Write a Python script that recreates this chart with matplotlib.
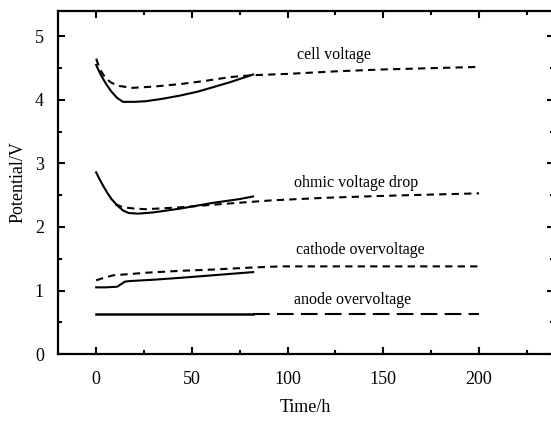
import matplotlib
matplotlib.use('Agg')
import matplotlib.pyplot as plt
from matplotlib.ticker import MultipleLocator

plt.rcParams['font.family'] = 'Liberation Serif'

# values (time in h, potential in V)
cell_t = [0, 2, 5, 8, 11, 14, 20, 26, 35, 44, 53, 61, 70, 77, 82]
cell_v = [4.55, 4.42, 4.26, 4.13, 4.03, 3.97, 3.97, 3.98, 4.02, 4.07, 4.13, 4.20, 4.28, 4.35, 4.40]
cell_dt = [0, 2, 5, 8, 12, 19, 30, 44, 57, 70, 82, 100, 125, 150, 175, 200]
cell_dv = [4.65, 4.48, 4.34, 4.27, 4.22, 4.19, 4.21, 4.25, 4.30, 4.36, 4.39, 4.41, 4.45, 4.48, 4.50, 4.52]

ohm_t = [0, 2, 4, 6, 8, 11, 14, 17, 22, 30, 44, 61, 75, 82]
ohm_v = [2.86, 2.74, 2.63, 2.53, 2.44, 2.34, 2.26, 2.22, 2.21, 2.23, 2.29, 2.38, 2.44, 2.48]
ohm_dt = [10, 14, 20, 26, 44, 65, 92, 120, 150, 175, 200]
ohm_dv = [2.36, 2.31, 2.29, 2.28, 2.31, 2.36, 2.42, 2.46, 2.49, 2.51, 2.53]

cath_t = [0, 5, 11, 13, 15, 18, 30, 44, 61, 82]
cath_v = [1.05, 1.05, 1.06, 1.10, 1.14, 1.15, 1.17, 1.20, 1.24, 1.29]
cath_dt = [0, 4, 9, 18, 26, 44, 61, 80, 96, 120, 150, 200]
cath_dv = [1.16, 1.20, 1.24, 1.26, 1.28, 1.31, 1.33, 1.36, 1.38, 1.38, 1.38, 1.38]

anode_t = [0, 82]
anode_v = [0.63, 0.63]
anode_dt = [82, 200]
anode_dv = [0.63, 0.63]

fig = plt.figure(figsize=(5.51, 4.23), dpi=100)
# right spine sits just past the image edge, as in the scanned original
ax = fig.add_axes([0.105, 0.163, 0.9, 0.811])

short = (0, (3.5, 2.5))
lw = 1.5
ax.plot(cell_t, cell_v, color='black', lw=lw)
ax.plot(cell_dt, cell_dv, color='black', lw=lw, linestyle=short)
ax.plot(ohm_t, ohm_v, color='black', lw=lw)
ax.plot(ohm_dt, ohm_dv, color='black', lw=lw, linestyle=short)
ax.plot(cath_t, cath_v, color='black', lw=lw)
ax.plot(cath_dt, cath_dv, color='black', lw=lw, linestyle=short)
ax.plot(anode_t, anode_v, color='black', lw=lw + 0.3)
ax.plot(anode_dt, anode_dv, color='black', lw=lw, linestyle=(0, (8, 3.5)))

ax.text(124, 4.70, 'cell voltage', ha='center', va='center', fontsize=11.5)
ax.text(136, 2.70, 'ohmic voltage drop', ha='center', va='center', fontsize=11.5)
ax.text(138, 1.64, 'cathode overvoltage', ha='center', va='center', fontsize=11.5)
ax.text(134, 0.85, 'anode overvoltage', ha='center', va='center', fontsize=11.5)

ax.set_xlim(-20, 239)
ax.set_ylim(0, 5.4)
ax.xaxis.set_major_locator(MultipleLocator(50))
ax.xaxis.set_minor_locator(MultipleLocator(25))
ax.yaxis.set_major_locator(MultipleLocator(1))
ax.yaxis.set_minor_locator(MultipleLocator(0.5))
ax.tick_params(which='both', direction='in', top=True, right=True, labelsize=13, width=1.5)
ax.tick_params(which='major', length=5)
ax.tick_params(which='minor', length=3)
ax.tick_params(axis='x', pad=12)
ax.tick_params(axis='y', pad=10)
for s in ax.spines.values():
    s.set_linewidth(1.6)

ax.set_xlabel('Time/h', fontsize=13, labelpad=8)
ax.set_ylabel('Potential/V', fontsize=13, labelpad=6)

fig.savefig('out.png', dpi=100)
